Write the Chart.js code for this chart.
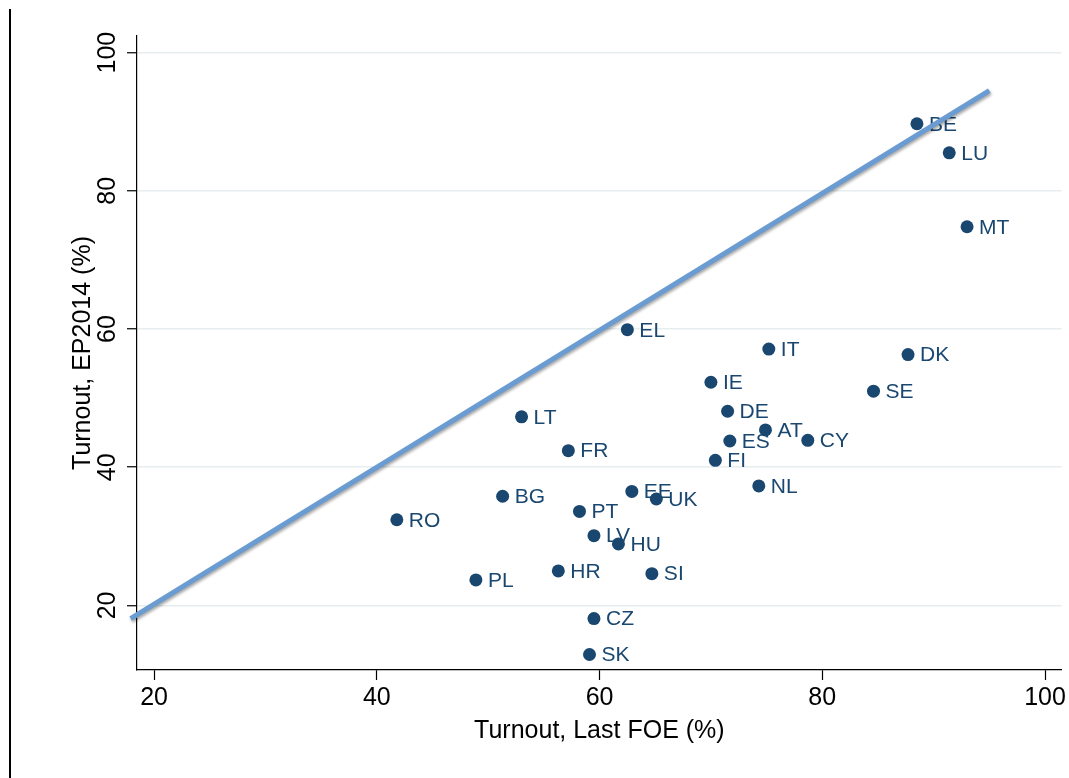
<!DOCTYPE html>
<html>
<head>
<meta charset="utf-8">
<script src="https://cdn.jsdelivr.net/npm/chart.js@4"></script>
<style>
  html, body { margin: 0; padding: 0; background: #fff; }
  #wrap { width: 1069px; height: 778px; }
</style>
</head>
<body>
<div id="wrap"><canvas id="turnoutChart" width="1069" height="778"></canvas></div>
<script>
// --- Data ---
const countries = ['BE', 'LU', 'MT', 'EL', 'IT', 'DK', 'SE', 'IE', 'DE', 'AT', 'ES', 'CY', 'FI', 'NL',
    'LT', 'FR', 'BG', 'EE', 'UK', 'PT', 'RO', 'LV', 'HU', 'HR', 'SI', 'PL', 'CZ', 'SK'];
const lastFOE = [88.5, 91.4, 93.0, 62.5, 75.2, 87.7, 84.6, 70.0, 71.5, 74.9, 71.7, 78.7, 70.4, 74.3,
    53.0, 57.2, 51.3, 62.9, 65.1, 58.2, 41.8, 59.5, 61.7, 56.3, 64.7, 48.9, 59.5, 59.1];
const ep2014 = [89.7, 85.5, 74.8, 59.9, 57.1, 56.3, 51.0, 52.3, 48.1, 45.4, 43.8, 43.9, 41.0, 37.3,
    47.3, 42.4, 35.8, 36.5, 35.4, 33.6, 32.4, 30.1, 28.9, 25.0, 24.6, 23.7, 18.1, 12.9];

// 45 degree reference line
const lineX = [17.9, 95];
const lineY = [18.1, 94.5];

const xTicks = [20, 40, 60, 80, 100];
const yTicks = [20, 40, 60, 80, 100];

// --- Styles ---
const FONT = "'Liberation Sans', Arial, Helvetica, sans-serif";
const NAVY = '#1a476f';
const LINE_BLUE = '#6a9bd1';

const scatterPoints = lastFOE.map((x, i) => ({ x: x, y: ep2014[i] }));
const linePoints = lineX.map((x, i) => ({ x: x, y: lineY[i] }));

// white background + left frame line
const backdrop = {
    id: 'backdrop',
    beforeDraw(chart) {
        const ctx = chart.ctx;
        ctx.save();
        ctx.fillStyle = '#fff';
        ctx.fillRect(0, 0, chart.width, chart.height);
        ctx.fillStyle = '#000';
        ctx.fillRect(9, 9, 2, chart.height - 9);
        ctx.restore();
    }
};

// country labels next to the markers, and a soft shadow under the reference line
const markerLabels = {
    id: 'markerLabels',
    beforeDatasetDraw(chart, args) {
        if (args.index === 0) {
            const ctx = chart.ctx;
            ctx.save();
            ctx.shadowColor = 'rgba(0,0,0,0.35)';
            ctx.shadowBlur = 3;
            ctx.shadowOffsetX = 1;
            ctx.shadowOffsetY = 2;
        }
    },
    afterDatasetDraw(chart, args) {
        const ctx = chart.ctx;
        if (args.index === 0) {
            ctx.restore();
            return;
        }
        if (args.index !== 1) return;
        ctx.save();
        ctx.font = '21px ' + FONT;
        ctx.fillStyle = NAVY;
        ctx.textAlign = 'left';
        ctx.textBaseline = 'middle';
        args.meta.data.forEach((pt, i) => {
            ctx.fillText(countries[i], pt.x + 12, pt.y + 1);
        });
        ctx.restore();
    }
};

// vertical (rotated) y tick labels, Stata style
const yLabels = {
    id: 'yLabels',
    afterDraw(chart) {
        const y = chart.scales.y;
        const ctx = chart.ctx;
        ctx.save();
        ctx.font = '25px ' + FONT;
        ctx.fillStyle = '#000';
        ctx.textAlign = 'center';
        ctx.textBaseline = 'middle';
        yTicks.forEach(v => {
            ctx.save();
            ctx.translate(y.right - 29, y.getPixelForValue(v));
            ctx.rotate(-Math.PI / 2);
            ctx.fillText(String(v), 0, 0);
            ctx.restore();
        });
        ctx.restore();
    }
};

const ctx = document.getElementById('turnoutChart').getContext('2d');
new Chart(ctx, {
    type: 'scatter',
    data: {
        datasets: [
            {
                type: 'line',
                label: '45 degree line',
                data: linePoints,
                borderColor: LINE_BLUE,
                borderWidth: 5,
                pointRadius: 0,
                fill: false,
                clip: false
            },
            {
                label: 'Countries',
                data: scatterPoints,
                backgroundColor: NAVY,
                borderColor: NAVY,
                borderWidth: 0,
                pointRadius: 6.5,
                pointHoverRadius: 6.5
            }
        ]
    },
    options: {
        responsive: false,
        animation: false,
        layout: { padding: { left: 60, right: 7, top: 36, bottom: 32 } },
        plugins: {
            legend: { display: false },
            tooltip: { enabled: false }
        },
        scales: {
            x: {
                type: 'linear',
                min: 18.47,
                max: 101.5,
                afterBuildTicks: s => { s.ticks = xTicks.map(v => ({ value: v })); },
                border: { color: '#000', width: 1.2 },
                grid: { drawOnChartArea: false, tickLength: 10, tickColor: '#000', tickWidth: 1.2 },
                ticks: { color: '#000', font: { family: FONT, size: 25 }, padding: 3, maxRotation: 0 },
                title: {
                    display: true,
                    text: 'Turnout, Last FOE (%)',
                    color: '#000',
                    font: { family: FONT, size: 25 },
                    padding: { top: 0, bottom: 0 }
                }
            },
            y: {
                type: 'linear',
                min: 10.66,
                max: 102.4,
                afterBuildTicks: s => { s.ticks = yTicks.map(v => ({ value: v })); },
                border: { color: '#000', width: 1.2 },
                grid: { color: '#e6eef0', lineWidth: 1.5, tickLength: 10, tickColor: '#000', tickWidth: 1.2 },
                ticks: { display: false },
                title: {
                    display: true,
                    text: 'Turnout, EP2014 (%)',
                    color: '#000',
                    font: { family: FONT, size: 25 },
                    padding: { top: 8, bottom: 29 }
                }
            }
        }
    },
    plugins: [backdrop, markerLabels, yLabels]
});
</script>
</body>
</html>
